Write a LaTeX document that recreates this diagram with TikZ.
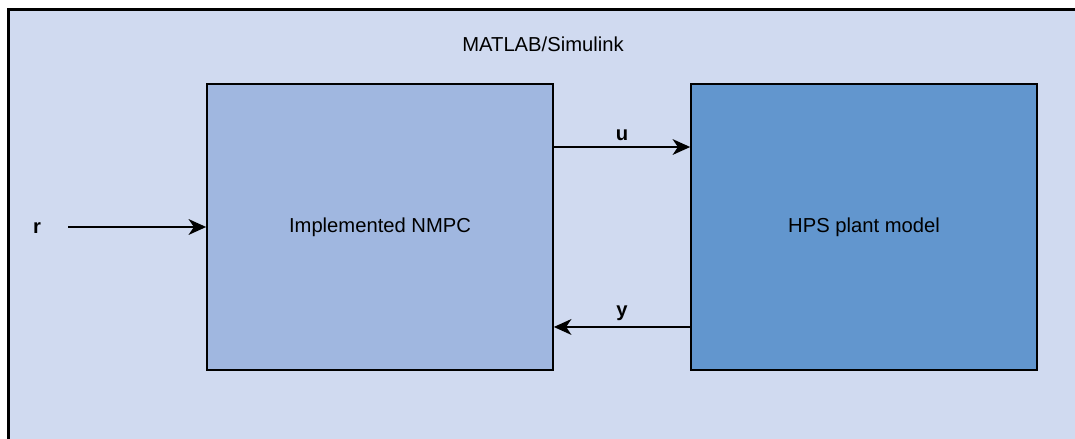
\documentclass[tikz,border=0pt]{standalone}
\usepackage{fontspec}
\setmainfont{Liberation Sans}
\usetikzlibrary{arrows.meta}
\definecolor{outerfill}{RGB}{208,218,240}
\definecolor{ctrlfill}{RGB}{160,183,224}
\definecolor{plantfill}{RGB}{98,150,206}

\begin{document}
\begin{tikzpicture}[x=0.02cm,y=-0.02cm,auto,
		font=\fontsize{11.5}{14}\selectfont,
		block/.style={draw,line width=1pt,minimum width=6.92cm,minimum height=5.72cm,inner sep=0pt},
		sig/.style={font=\fontsize{11.5}{14}\selectfont\bfseries},
		>={Stealth[length=10pt,width=9pt,inset=3pt]}]
	\clip (0,0) rectangle (1075,439);
	\fill[white] (0,0) rectangle (1075,439);
	\draw[fill=outerfill,line width=1.2pt] (8.5,9.5) rectangle (1090,460);
	\node (title) at (543,44) {MATLAB/Simulink};
	\node[block,fill=ctrlfill] (nmpc) at (380,227) {Implemented NMPC};
	\node[block,fill=plantfill] (hps) at (864,227) {HPS plant model};
	\node[sig] (r) at (37,228) {r};
	\coordinate (rin) at (68,227);
	\draw[->,line width=0.8pt] (rin) to (nmpc);
	\draw[->,line width=0.8pt] ([yshift=1.6cm]nmpc.east) to node[sig] {u} ([yshift=1.6cm]hps.west);
	\draw[->,line width=0.8pt] ([yshift=-2cm]hps.west) to node[sig,swap] {y} ([yshift=-2cm]nmpc.east);
\end{tikzpicture}
\end{document}
